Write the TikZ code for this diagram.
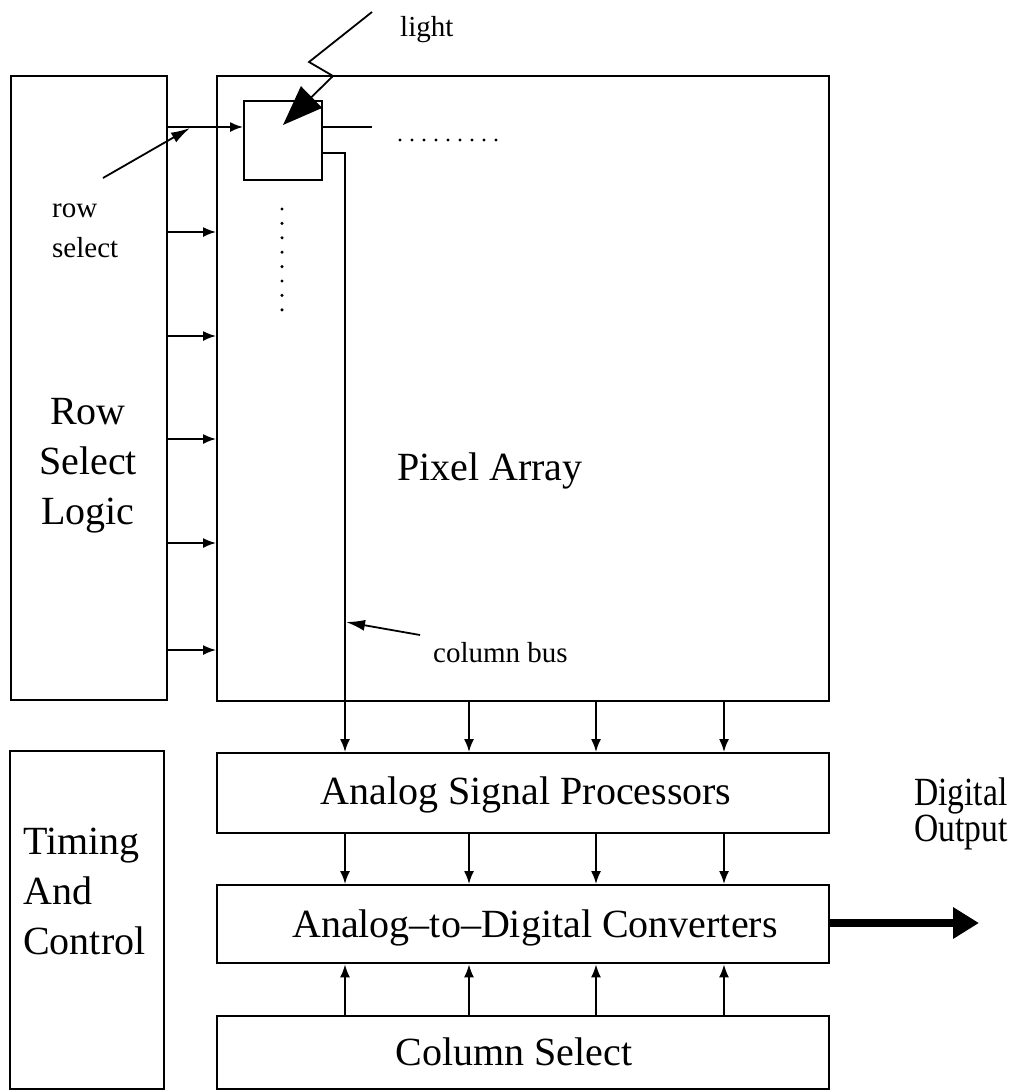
\documentclass[tikz,border=0pt]{standalone}
\usepackage{fontspec}
\setmainfont{Liberation Serif}
\usetikzlibrary{arrows.meta}

\begin{document}
\begin{tikzpicture}[
		x=1pt,y=-1pt,
		block/.style={draw,line width=2.4pt,inner sep=0,anchor=north west},
		bigtext/.style={font=\fontsize{40}{50}\selectfont,inner sep=0},
		smalltext/.style={font=\fontsize{29}{40}\selectfont,inner sep=0},
		sig/.style={line width=1.7pt,-{Latex[length=13pt,width=10pt]}},
		pointer/.style={line width=1.8pt,-{Latex[length=19pt,width=11pt]}},
		lightray/.style={line width=1.8pt,-{Triangle[length=40pt,width=30pt]}},
		output/.style={line width=8pt,-{Triangle[length=26pt,width=30pt]}}
		]
		\useasboundingbox (0,0) rectangle (1012,1092);
		% blocks
		\node[block,minimum width=156pt,minimum height=624pt] (rowlogic) at (10,75) {};
		\node[block,minimum width=612pt,minimum height=625pt] (pixarray) at (216,75) {};
		\node[block,minimum width=154pt,minimum height=338pt] (timing) at (9,750) {};
		\node[block,minimum width=612pt,minimum height=80pt] (asp) at (216,752) {};
		\node[block,minimum width=612pt,minimum height=78pt] (adc) at (216,884) {};
		\node[block,minimum width=612pt,minimum height=73pt] (colsel) at (216,1015) {};
		\node[block,line width=1.8pt,minimum width=78pt,minimum height=79pt] (pixel) at (243,100) {};
		
		% texts
		\node[bigtext,align=center] (rowtxt) at (88,466) {Row\\Select\\Logic};
		\node[bigtext,align=left,anchor=west] (timtxt) at (23,891) {Timing\\And\\Control};
		\node[bigtext,anchor=base west] (pixtxt) at (397,480) {Pixel Array};
		\node[bigtext,anchor=base] (asptxt) at (526,804) {Analog Signal Processors};
		\node[bigtext,anchor=base west] (adctxt) at (292,937) {Analog--to--Digital Converters};
		\node[bigtext,anchor=base] (coltxt) at (514,1065) {Column Select};
		\node[font=\fontsize{40}{32}\selectfont,inner sep=0,align=left,anchor=west,xscale=0.84,transform shape] (outtxt) at (914,814) {Digital\\Output};
		\node[smalltext,anchor=base west] (lighttxt) at (400,36) {light};
		\node[smalltext,align=left,anchor=base west] (rowseltxt) at (52,217) {row};
		\node[smalltext,anchor=base west] (rowseltxt2) at (52,257) {select};
		\node[smalltext,anchor=base west] (bustxt) at (433,662) {column bus};
		
		% row select lines
		\foreach \y in {232,336,439,543,650}
		\draw[sig] (rowlogic.east |- 0,\y) -- (pixarray.west |- 0,\y);
		\draw[sig] (rowlogic.east |- 0,127) -- (pixel.west |- 0,127);
		\coordinate (rowend) at (372,127);
		\draw[line width=1.7pt] (pixel.east |- 0,127) -- (rowend);
		
		% column bus
		\draw[sig] (pixel.east |- 0,153) -| (asp.north -| 345,0);
		\foreach \x in {469,596,724}
		\draw[sig] (pixarray.south -| \x,0) -- (asp.north -| \x,0);
		\foreach \x in {345,469,596,724}{
			\draw[sig] (asp.south -| \x,0) -- (adc.north -| \x,0);
			\draw[sig] (colsel.north -| \x,0) -- (adc.south -| \x,0);
		}
		
		% dots
		\foreach \i in {0,...,8}
		\fill (400+\i*12,140) circle (1.7pt);
		\foreach \i in {0,...,7}
		\fill (282,209+\i*14.4) circle (1.7pt);
		
		% pointers
		\coordinate (lightsrc) at (372,12);
		\coordinate (lighthit) at (283,125);
		\draw[lightray] (lightsrc) -- (309,62) -- (333,76) -- (lighthit);
		\coordinate (rowselfrom) at (103,178);
		\draw[pointer] (rowselfrom) -- (190,128);
		\coordinate (busfrom) at (420,635);
		\draw[pointer] (busfrom) -- (346,622);
		
		% output
		\coordinate (outend) at (979,923);
		\draw[output] (adc.east |- outend) -- (outend);
	\end{tikzpicture}
\end{document}
